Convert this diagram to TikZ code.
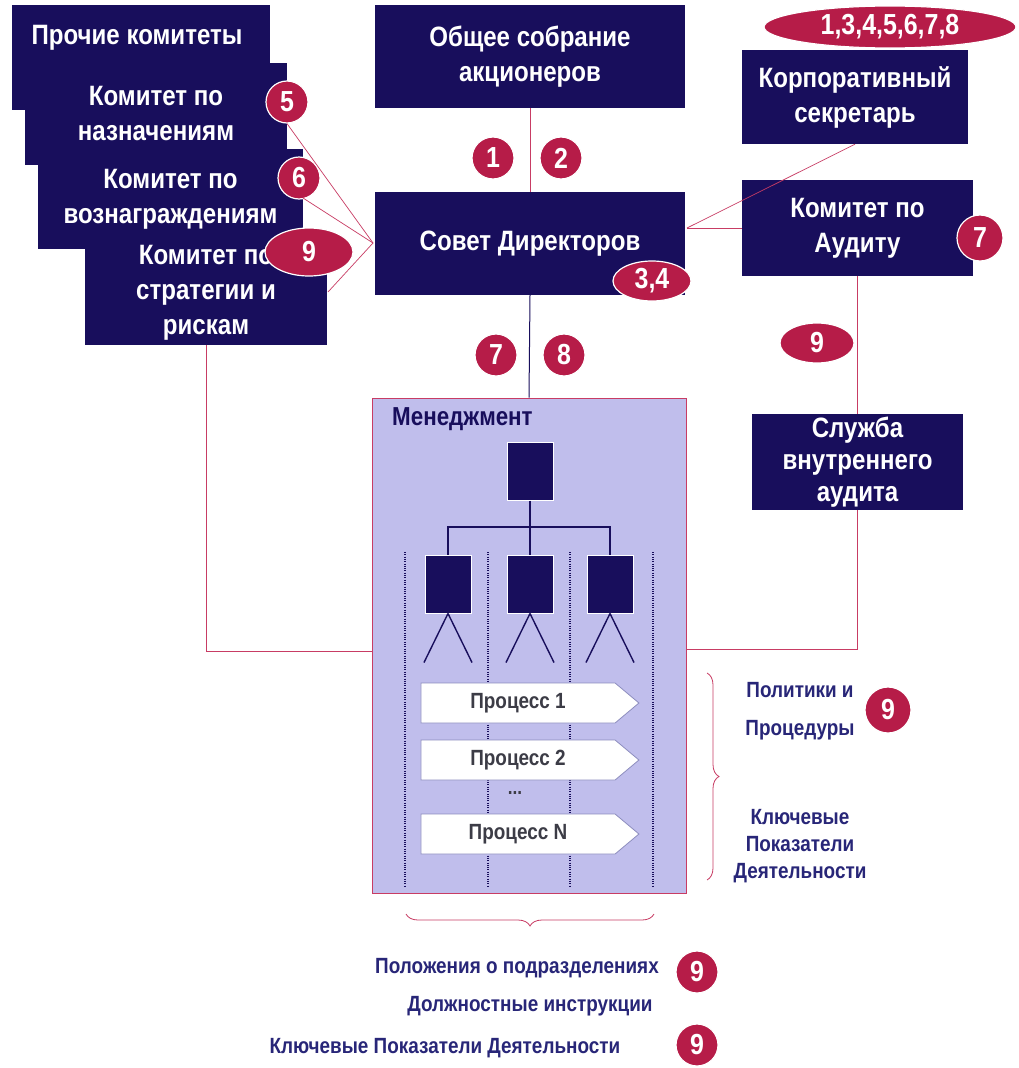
\documentclass[tikz,border=0pt]{standalone}
\usepackage{fontspec}
\setmainfont{Liberation Sans}
\newfontfamily\narrowbold[FakeStretch=0.86]{Liberation Sans Bold}
\usetikzlibrary{shapes.geometric,shapes.symbols,decorations.pathreplacing}
\definecolor{navy}{RGB}{24,14,92}
\definecolor{badge}{RGB}{182,28,72}
\definecolor{linkred}{RGB}{200,60,100}
\definecolor{lav}{RGB}{192,190,236}
\definecolor{labnavy}{RGB}{40,38,120}
\definecolor{procgrey}{RGB}{60,60,70}
\definecolor{procedge}{RGB}{140,140,190}
\begin{document}
\begin{tikzpicture}[x=1pt,y=-1pt,
  boxstyle/.style={fill=navy,text=white,align=center,inner sep=0pt,
    font=\narrowbold\fontsize{28}{35}\selectfont},
  badgestyle/.style={circle,fill=badge,draw=white,line width=1.2pt,text=white,
    inner sep=0pt,minimum size=42pt,font=\narrowbold\fontsize{29}{30}\selectfont},
  badgeoval/.style={ellipse,fill=badge,draw=white,line width=1.2pt,text=white,
    inner sep=0pt,font=\narrowbold\fontsize{29}{30}\selectfont},
  link/.style={draw=linkred,line width=0.7pt},
  mgmtsq/.style={fill=navy,draw=white,line width=1pt,inner sep=0pt,minimum width=46pt,minimum height=58pt},
  labtext/.style={text=labnavy,font=\narrowbold\fontsize{22}{27}\selectfont,align=center,inner sep=0pt},
  procstyle/.style={signal,signal to=east,signal pointer angle=80,fill=white,draw=procedge,line width=0.8pt,
    minimum width=218pt,minimum height=40pt,inner sep=0pt,text=procgrey,
    font=\narrowbold\fontsize{22}{24}\selectfont},
  dotline/.style={draw=navy,line width=1.4pt,dash pattern=on 0.9pt off 1.4pt}
]
\useasboundingbox (0,0) rectangle (1019,1068);
\fill[white] (0,0) rectangle (1019,1068);

% left committees (stacked)
\node[boxstyle,minimum width=258pt,minimum height=105pt] (prochie) at (141,57.5) {};
\node[boxstyle,anchor=center] (prochietxt) at (137,38) {Прочие комитеты};
\node[boxstyle,minimum width=262pt,minimum height=102pt] (nazn) at (156,114) {Комитет по\\назначениям};
\node[boxstyle,minimum width=265pt,minimum height=100pt] (voz) at (170.5,199) {Комитет по\\вознаграждениям};
\node[boxstyle,minimum width=242pt,minimum height=105pt] (strat) at (206,292.5) {Комитет по\\стратегии и\\рискам};

% central boxes
\node[boxstyle,minimum width=310pt,minimum height=103pt] (gsm) at (530,56.5) {Общее собрание\\акционеров};
\node[boxstyle,minimum width=310pt,minimum height=103pt] (board) at (530,243.5) {Совет Директоров};

% right boxes
\node[boxstyle,minimum width=226pt,minimum height=94pt] (secr) at (855,97) {Корпоративный\\секретарь};
\node[boxstyle,minimum width=231pt,minimum height=96pt] (audit) at (857.5,228) {Комитет по\\Аудиту};
\node[boxstyle,minimum width=211pt,minimum height=96pt,font=\narrowbold\fontsize{28}{32}\selectfont] (ia) at (857.5,462) {Служба\\внутреннего\\аудита};

% management box
\node[draw=linkred,fill=lav,line width=0.7pt,minimum width=314pt,minimum height=495pt,inner sep=0pt] (mgmt) at (529,645.5) {};
\node[anchor=west,text=navy,font=\narrowbold\fontsize{26}{28}\selectfont,inner sep=0pt] (mgmtlab) at (392,419) {Менеджмент};

% badges
\node[badgestyle] (b5) at (287,102) {5};
\node[badgestyle] (b6) at (299,178) {6};
\node[badgeoval,minimum width=88pt,minimum height=48pt] (b9a) at (309,252) {9};
\node[badgestyle] (b1) at (493,158) {1};
\node[badgestyle] (b2) at (561,158) {2};
\node[badgeoval,minimum width=78pt,minimum height=40pt] (b34) at (652,281) {3,4};
\node[badgestyle] (b7a) at (496,355) {7};
\node[badgestyle] (b8) at (564,355) {8};
\node[badgeoval,minimum width=252pt,minimum height=42pt] (ball) at (890,27) {1,3,4,5,6,7,8};
\node[badgestyle,minimum size=46pt] (b7b) at (980,238) {7};
\node[badgeoval,minimum width=74pt,minimum height=40pt] (b9b) at (817,343) {9};

% connectors
\coordinate (conv) at (373,243);
\draw[link] (b5.south) -- (conv);
\draw[link] (303,198) -- (conv);
\draw[link] (328,292) -- (conv);
\draw[link] (gsm.south) -- (board.north);
\draw[navy,line width=1pt] (board.south) -- (mgmt.north);
\coordinate (bright) at (687,228);
\draw[link] (bright) -- (742,228);
\draw[link] (bright) -- (secr.south);
\draw[link] (audit.south) -- (ia.north);
\draw[link] (206,345) |- (mgmt.west |- 0,651);
\draw[link] (ia.south) |- (mgmt.east |- 0,649);

% org chart inside management
\node[mgmtsq] (top) at (530,471) {};
\node[mgmtsq] (s1) at (448,584) {};
\node[mgmtsq] (s2) at (530,584) {};
\node[mgmtsq] (s3) at (610,584) {};
\draw[navy,line width=1.6pt] (top.south) -- (s2.north);
\draw[navy,line width=1.6pt] (s1.north) |- (530,527) -| (s3.north);
\foreach \n in {s1,s2,s3}{
  \draw[navy,line width=1.4pt] (\n.south) -- ++(-24,49);
  \draw[navy,line width=1.4pt] (\n.south) -- ++(24,49);
}
\foreach \x in {405,488,570,653}{
  \draw[dotline] (\x,552) -- (\x,887);
}

% processes
\node[procstyle] (p1) at (518,703) {Процесс 1};
\node[procstyle] (p2) at (518,760) {Процесс 2};
\node[text=procgrey,font=\narrowbold\fontsize{20}{22}\selectfont,inner sep=0pt] (pdots) at (515,793) {...};
\node[procstyle] (pn) at (518,834) {Процесс N};

% braces
\draw[linkred,line width=0.8pt,decorate,decoration={brace,amplitude=12pt}] (707,673) -- (707,880);
\draw[linkred,line width=0.8pt,decorate,decoration={brace,amplitude=12pt,mirror}] (406,914) -- (654,914);

% right labels
\node[labtext] (pol1) at (800,690) {Политики и};
\node[labtext] (pol2) at (800,730) {Процедуры};
\node[badgestyle,minimum size=46pt] (b9c) at (888,710) {9};
\node[labtext,font=\narrowbold\fontsize{22}{27}\selectfont] (kpi1) at (800,846) {Ключевые\\Показатели\\Деятельности};

% bottom labels
\node[labtext] (pod) at (517,968) {Положения о подразделениях};
\node[labtext] (dolzh) at (530,1006) {Должностные инструкции};
\node[labtext] (kpi2) at (445,1048) {Ключевые Показатели Деятельности};
\node[badgestyle] (b9d) at (697,972) {9};
\node[badgestyle] (b9e) at (697,1045) {9};
\end{tikzpicture}
\end{document}
